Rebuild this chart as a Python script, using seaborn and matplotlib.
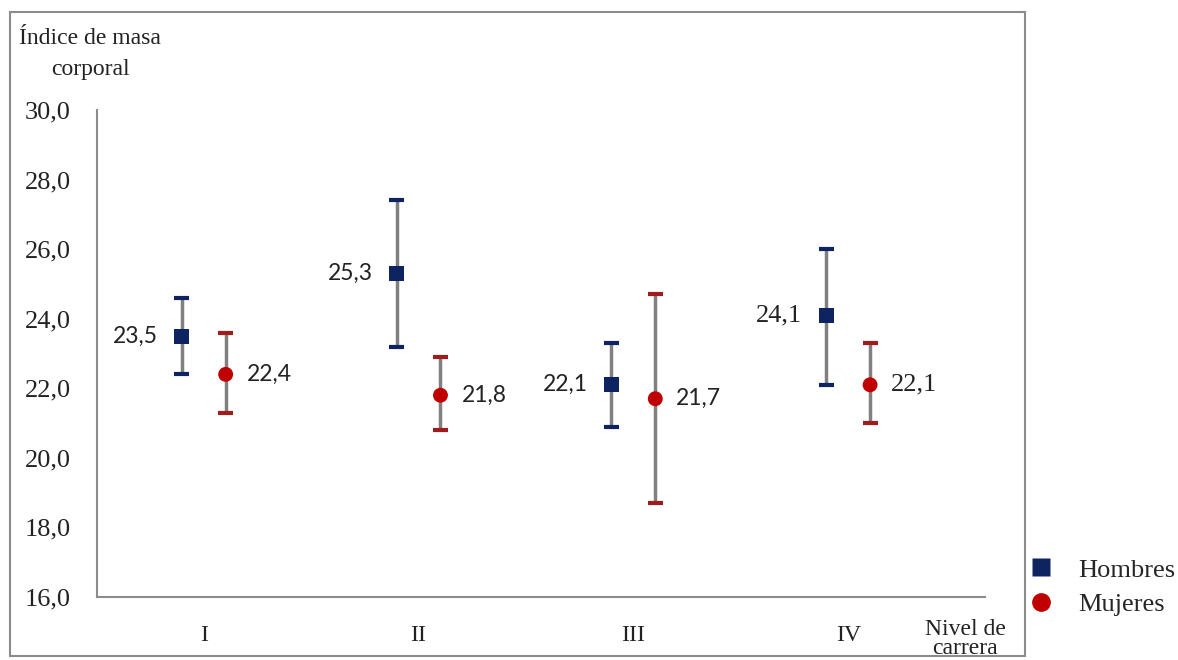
import pandas as pd
import matplotlib.pyplot as plt
import seaborn as sns
from matplotlib.patches import Rectangle
from matplotlib.lines import Line2D

# --- data ---
niveles = ["I", "II", "III", "IV"]
hombres_media = [23.5, 25.3, 22.1, 24.1]
hombres_bajo = [22.4, 23.2, 20.9, 22.1]
hombres_alto = [24.6, 27.4, 23.3, 26.0]
mujeres_media = [22.4, 21.8, 21.7, 22.1]
mujeres_bajo = [21.3, 20.8, 18.7, 21.0]
mujeres_alto = [23.6, 22.9, 24.7, 23.3]
y_ticks = [16, 18, 20, 22, 24, 26, 28, 30]

rows = []
for i, n in enumerate(niveles):
    rows.append(dict(nivel=n, pos=i - 0.102, sexo="Hombres", media=hombres_media[i],
                     bajo=hombres_bajo[i], alto=hombres_alto[i]))
    rows.append(dict(nivel=n, pos=i + 0.102, sexo="Mujeres", media=mujeres_media[i],
                     bajo=mujeres_bajo[i], alto=mujeres_alto[i]))
df = pd.DataFrame(rows)

azul = "#0d2460"
rojo = "#c00000"
gris = "#808080"
texto = "#222222"
serif = ["Liberation Serif", "DejaVu Serif"]

sns.set_style("white")
plt.rcParams["font.family"] = serif

fig = plt.figure(figsize=(11.78, 6.6), dpi=100)
ax = fig.add_axes([97 / 1178, 1 - 597 / 660, (985 - 97) / 1178, (597 - 110) / 660])

# error bars (grey stems, coloured caps)
ax.vlines(df["pos"], df["bajo"], df["alto"], color=gris, lw=2.5, zorder=2)
for sexo, col in [("Hombres", azul), ("Mujeres", "#a01c1c")]:
    d = df[df["sexo"] == sexo]
    ax.hlines(d["bajo"], d["pos"] - 0.035, d["pos"] + 0.035, color=col, lw=3, zorder=3)
    ax.hlines(d["alto"], d["pos"] - 0.035, d["pos"] + 0.035, color=col, lw=3, zorder=3)

sns.scatterplot(data=df, x="pos", y="media", hue="sexo", style="sexo",
                palette={"Hombres": azul, "Mujeres": rojo},
                markers={"Hombres": "s", "Mujeres": "o"},
                s=115, edgecolor="none", ax=ax, zorder=4, legend=False)

# value labels (levels I-III in a sans face, IV in serif as in the original)
for _, r in df.iterrows():
    txt = f"{r['media']:.1f}".replace(".", ",")
    if r["nivel"] == "IV":
        fam, fs = serif, 19
    else:
        fam, fs = ["Lato", "DejaVu Sans"], 16.5
    if r["sexo"] == "Hombres":
        ax.annotate(txt, (r["pos"], r["media"]), xytext=(-24, 0), textcoords="offset pixels",
                    ha="right", va="center", fontsize=fs, family=fam, color=texto)
    else:
        ax.annotate(txt, (r["pos"], r["media"]), xytext=(21, 0), textcoords="offset pixels",
                    ha="left", va="center", fontsize=fs, family=fam, color=texto)

ax.set_xlim(-0.497, 3.637)
ax.set_ylim(16, 30)
ax.set_yticks(y_ticks)
ax.set_yticklabels([f"{t:.1f}".replace(".", ",") for t in y_ticks], fontsize=19, color=texto)
ax.set_xticks(range(len(niveles)))
ax.set_xticklabels(niveles, fontsize=17, color=texto)
ax.tick_params(axis="y", length=0, pad=19)
ax.tick_params(axis="x", length=0, pad=20)
ax.set_xlabel("")
ax.set_ylabel("")
for s in ["top", "right"]:
    ax.spines[s].set_visible(False)
for s in ["left", "bottom"]:
    ax.spines[s].set_color("#8c8c8c")
    ax.spines[s].set_linewidth(1.5)

fig.text(90 / 1178, 1 - 54 / 660, "Índice de masa\ncorporal", ha="center", va="center",
         fontsize=17, linespacing=1.6, color=texto)
fig.text(965 / 1178, 1 - 639 / 660, "Nivel de\ncarrera", ha="center", va="center",
         fontsize=17, linespacing=0.85, color=texto)

# outer frame
fig.patches.append(Rectangle((10 / 1178, 1 - 656 / 660), (1025 - 10) / 1178, (656 - 12) / 660,
                             transform=fig.transFigure, fill=False, edgecolor="#8c8c8c", lw=1.5))

# legend outside the frame
handles = [Line2D([], [], marker="s", color="none", markerfacecolor=azul, markeredgecolor="none", markersize=13),
           Line2D([], [], marker="o", color="none", markerfacecolor=rojo, markeredgecolor="none", markersize=13.5)]
fig.legend(handles, ["Hombres", "Mujeres"], loc="center left",
           bbox_to_anchor=(1028 / 1178, 1 - 587 / 660), frameon=False, fontsize=19,
           handlelength=1.0, handletextpad=0.9, labelspacing=0.4, borderaxespad=0, borderpad=0)

fig.savefig("out.png", dpi=100)
